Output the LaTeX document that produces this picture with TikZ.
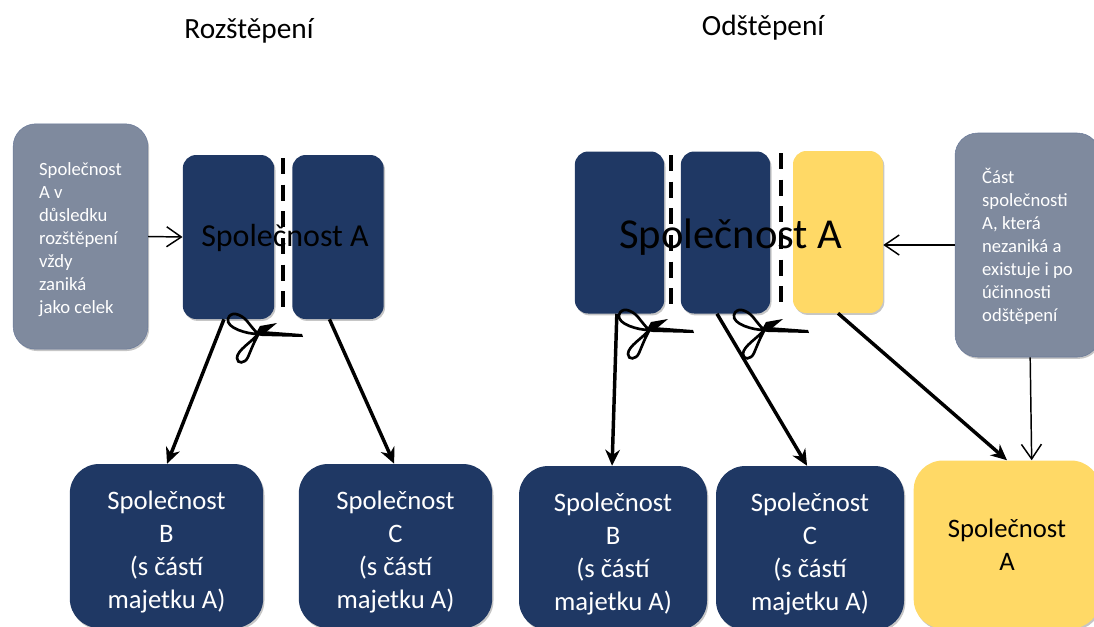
\documentclass[tikz,border=0pt]{standalone}
\usepackage{fontspec}
\setmainfont{Carlito}
\usetikzlibrary{arrows.meta,shadows}
\definecolor{navyfill}{HTML}{1F3864}
\definecolor{sunfill}{HTML}{FFD966}
\definecolor{slatefill}{HTML}{7F8A9E}
\definecolor{slateline}{HTML}{6A7A9A}
\newcommand{\lownote}{\rule{0pt}{14pt}}
\newcommand{\lowresult}{\rule{0pt}{23pt}}

\begin{document}
\begin{tikzpicture}[x=0.75pt,y=-0.75pt]
    % Styles
    \tikzstyle{softshadow} = [drop shadow={opacity=0.45,shadow xshift=1pt,shadow yshift=-1.4pt}]
    \tikzstyle{part} = [rectangle, rounded corners=10pt, inner sep=0pt, softshadow]
    \tikzstyle{navypart} = [part, fill=navyfill, minimum width=68.5pt, minimum height=123pt]
    \tikzstyle{sunpart} = [part, fill=sunfill, minimum width=67.5pt, minimum height=121.5pt]
    \tikzstyle{result} = [rectangle, rounded corners=22pt, inner sep=0pt, align=center, font=\fontsize{20}{24.75}\selectfont, minimum height=123pt, softshadow]
    \tikzstyle{note} = [rectangle, rounded corners=17pt, inner sep=0pt, align=left, draw=slateline, fill=slatefill, text=white, font=\fontsize{14}{17.25}\selectfont, softshadow]
    \tikzstyle{heading} = [font=\fontsize{22}{26}\selectfont]
    \tikzstyle{thickarrow} = [line width=2.6pt,-{Stealth[length=12pt,width=11pt]}]
    \tikzstyle{thinarrow} = [line width=1.1pt,-{Straight Barb[length=11pt,width=15pt,line width=1.1pt]}]
    \tikzstyle{cutline} = [line width=3pt,dash pattern=on 12pt off 8pt]
    \tikzset{
        scissors/.pic={
            \draw[line width=2pt] (1,2) .. controls (-10,2) and (-31,-4) .. (-29,-13) .. controls (-27,-21) and (-17,-19) .. (-10,-11) .. controls (-6,-6) and (-3,-2) .. (1,2);
            \draw[line width=2pt] (2,1) .. controls (-5,10) and (-20,18) .. (-20,26) .. controls (-20,32) and (-12,32) .. (-9,25) .. controls (-6,18) and (-3,10) .. (2,1);
            \fill (45,2) -- (46,5) -- (5,4) -- (-1,3) -- (6,-1) -- cycle;
            \fill (20,-9) -- (3,-6) -- (-2,3) -- (8,1) -- cycle;
        }
    }

    \clip (0,0) rectangle (1094,626);

    % Titles
    \node (titleSplit) [heading] at (249,31) {Rozštěpení};
    \node (titleSpin) [heading] at (763,28) {Odštěpení};

    % Left part
    \node (splitOne) [navypart] at (228.5,237) {};
    \node (splitTwo) [navypart] at (338,237) {};
    \coordinate (splitTop) at (283,158);
    \coordinate (splitEnd) at (283,316);
    \draw [cutline] (splitTop) -- (splitEnd);
    \node (splitNote) [note, minimum width=101pt, minimum height=169pt] at (80.5,236.5) {\lownote Společnost\\A v\\důsledku\\rozštěpení\\vždy\\zaniká\\jako celek};
    \node (splitName) [font=\fontsize{24}{28}\selectfont] at (285,238) {Společnost A};
    \node (splitB) [result, fill=navyfill, text=white, minimum width=145pt] at (166.5,546) {\lowresult Společnost\\B\\(s částí\\majetku A)};
    \node (splitC) [result, fill=navyfill, text=white, minimum width=145pt] at (395.5,546) {\lowresult Společnost\\C\\(s částí\\majetku A)};

    % Right part
    \node (spinOne) [navypart, minimum width=67pt, minimum height=121.5pt] at (619.5,232.5) {};
    \node (spinTwo) [navypart, minimum width=67pt, minimum height=121.5pt] at (725.5,232.5) {};
    \node (spinKeep) [sunpart] at (838,232) {};
    \coordinate (spinTopA) at (671,155);
    \coordinate (spinEndA) at (671,312);
    \coordinate (spinTopB) at (781,153);
    \coordinate (spinEndB) at (781,312);
    \draw [cutline] (spinTopA) -- (spinEndA);
    \draw [cutline] (spinTopB) -- (spinEndB);
    \node (spinName) [font=\fontsize{32}{38}\selectfont] at (731,237) {Společnost A};
    \node (spinNote) [note, minimum width=108.75pt, minimum height=168pt] at (1027.5,245) {\lownote Část\\společnosti\\A, která\\nezaniká a\\existuje i po\\účinnosti\\odštěpení};
    \node (spinB) [result, fill=navyfill, text=white, minimum width=141pt] at (613,548) {\lowresult Společnost\\B\\(s částí\\majetku A)};
    \node (spinC) [result, fill=navyfill, text=white, minimum width=141pt] at (810,548) {\lowresult Společnost\\C\\(s částí\\majetku A)};
    \node (spinA) [result, fill=sunfill, text=black, minimum width=140pt, minimum height=126pt] at (1007,544.5) {Společnost\\A};

    % Arrows
    \draw [thickarrow] ([xshift=-3.4pt]splitOne.south) -- ([xshift=0.4pt]splitB.north);
    \draw [thickarrow] ([xshift=-6.4pt]splitTwo.south) -- ([xshift=-1pt]splitC.north);
    \draw [thickarrow] ([xshift=-2pt]spinOne.south) -- ([xshift=-0.7pt]spinB.north);
    \draw [thickarrow] ([xshift=-6.4pt]spinTwo.south) -- ([xshift=-2.2pt]spinC.north);
    \draw [thickarrow] ([xshift=0pt]spinKeep.south) -- ([xshift=0pt]spinA.north);
    \draw [thinarrow] (splitNote.east) -- (splitOne.west);
    \draw [thinarrow] (spinNote.west) -- (spinKeep.east |- spinNote.west);
    \draw [thinarrow] ([xshift=2pt]spinNote.south) -- ([xshift=18.5pt]spinA.north);

    % Scissors
    \pic at (257,332) {scissors};
    \pic at (648,328) {scissors};
    \pic at (763,328) {scissors};
\end{tikzpicture}
\end{document}
